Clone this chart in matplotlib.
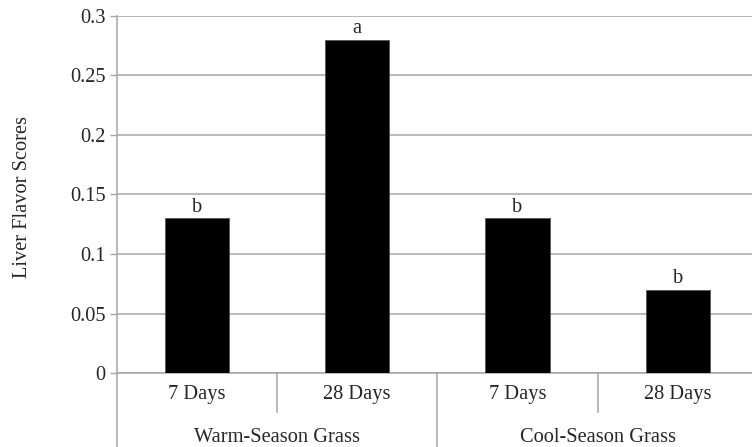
import matplotlib
matplotlib.use("Agg")
import matplotlib.pyplot as plt

# data
periods = ["7 Days", "28 Days", "7 Days", "28 Days"]
groups = ["Warm-Season Grass", "Cool-Season Grass"]
scores = [0.13, 0.28, 0.13, 0.07]
letters = ["b", "a", "b", "b"]
yticks = [0, 0.05, 0.1, 0.15, 0.2, 0.25, 0.3]
yticklabels = ["0", "0.05", "0.1", "0.15", "0.2", "0.25", "0.3"]

plt.rcParams['font.family'] = ['Liberation Serif', 'DejaVu Serif']
plt.rcParams['font.size'] = 14.7

grey = '#a6a6a6'
textcol = '#262626'

fig = plt.figure(figsize=(7.52, 4.47), dpi=100)
ax = fig.add_axes([0.1552, 0.1649, 0.8527, 0.8000])

xs = [i + 0.5 for i in range(len(scores))]
ax.bar(xs, scores, width=0.4, color='black', edgecolor='#555555', linewidth=0.6, zorder=3)

# significance letters above the bars
for x, v, s in zip(xs, scores, letters):
    ax.annotate(s, (x, v), xytext=(0, 1), textcoords='offset points',
                ha='center', va='bottom', color=textcol)

ax.set_xlim(0, len(scores))
ax.set_ylim(0, 0.3)
ax.set_yticks(yticks)
ax.set_yticklabels(yticklabels, color=textcol)
ax.set_xticks([])
ax.yaxis.grid(True, color=grey, linewidth=1.1, zorder=0)
ax.set_axisbelow(True)
ax.tick_params(axis='y', length=5, width=1, color=grey, pad=3)
for side in ('top', 'right'):
    ax.spines[side].set_visible(False)
for side in ('left', 'bottom'):
    ax.spines[side].set_color(grey)
    ax.spines[side].set_linewidth(1.1)

# two-level category axis below the plot
tr = ax.get_xaxis_transform()
ax.plot([0, 0], [0, -0.3], transform=tr, color=grey, lw=1.1, clip_on=False)
for i in range(1, len(scores)):
    ylow = -0.3 if i % 2 == 0 else -0.108
    ax.plot([i, i], [0, ylow], transform=tr, color=grey, lw=1.1, clip_on=False)
for x, p in zip(xs, periods):
    ax.text(x, -0.058, p, transform=tr, ha='center', va='center', color=textcol)
for j, g in enumerate(groups):
    ax.text(2 * j + 1, -0.18, g, transform=tr, ha='center', va='center', color=textcol)

fig.text(0.030, 0.560, "Liver Flavor Scores", rotation=90, ha='center', va='center',
         color=textcol)

fig.savefig("out.png", dpi=100)
